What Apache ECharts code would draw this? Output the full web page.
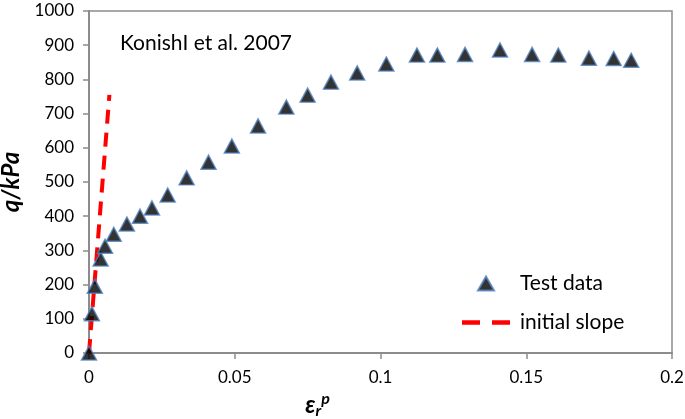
<!DOCTYPE html>
<html><head><meta charset="utf-8">
<script src="https://cdn.jsdelivr.net/npm/echarts@6/dist/echarts.min.js"></script>
<style>html,body{margin:0;padding:0;background:#fff}#c{width:685px;height:419px}</style>
</head><body><div id="c"></div>
<script>
const strain = [0, 0.001, 0.002, 0.004, 0.0055, 0.0085, 0.013, 0.0175, 0.0216, 0.027, 0.0335, 0.041, 0.049, 0.058, 0.0677, 0.075, 0.083, 0.092, 0.102, 0.1125, 0.1195, 0.129, 0.141, 0.152, 0.161, 0.1715, 0.180, 0.186];
const q = [0, 115, 195, 275, 312, 347, 377, 400, 424, 462, 512, 558, 605, 664, 719, 754, 792, 819, 845, 871, 871, 873, 886, 873, 871, 862, 861, 856];
const slopeX = [0, 0.007];
const slopeY = [0, 755];
const annotation = 'KonishI et al. 2007';
const seriesNames = ['Test data', 'initial slope'];

const font = 'Lato, "Open Sans", sans-serif';
const chart = echarts.init(document.getElementById('c'), null, {renderer: 'canvas'});
chart.setOption({
  animation: false,
  grid: {left: 89, right: 13, top: 11, bottom: 66, outerBoundsMode: 'none', containLabel: false, show: true, borderColor: '#8c8c8c', borderWidth: 1.5, backgroundColor: 'transparent'},
  xAxis: {
    type: 'value', min: 0, max: 0.2, interval: 0.05,
    axisLine: {show: true, lineStyle: {color: '#8c8c8c', width: 2}},
    axisTick: {show: true, inside: false, length: 6, lineStyle: {color: '#8c8c8c', width: 1.5}},
    splitLine: {show: false},
    axisLabel: {color: '#000', fontFamily: font, fontSize: 17, margin: 16, formatter: v => String(v)},
    name: '{e|ε}{r|r}{p|p}', nameLocation: 'middle', nameGap: 32,
    nameTextStyle: {padding: [0, 126, 0, 0], rich: {
      e: {fontFamily: font, fontSize: 24, fontWeight: 'bold', fontStyle: 'italic', color: '#000'},
      r: {fontFamily: font, fontSize: 16, fontWeight: 'bold', fontStyle: 'italic', color: '#000', verticalAlign: 'bottom', padding: [8, 0, 0, 0]},
      p: {fontFamily: font, fontSize: 16, fontWeight: 'bold', fontStyle: 'italic', color: '#000', verticalAlign: 'top', padding: [0, 0, 12, 0]}
    }}
  },
  yAxis: {
    type: 'value', min: 0, max: 1000, interval: 100,
    axisLine: {show: true, lineStyle: {color: '#8c8c8c', width: 2}},
    axisTick: {show: true, inside: false, length: 6, lineStyle: {color: '#8c8c8c', width: 1.5}},
    splitLine: {show: false},
    axisLabel: {color: '#000', fontFamily: font, fontSize: 17, margin: 15, formatter: v => String(v)},
    name: 'q/kPa', nameLocation: 'middle', nameGap: 58, nameRotate: 90,
    nameTextStyle: {fontFamily: font, fontSize: 24, fontWeight: 'bold', fontStyle: 'italic', color: '#000'}
  },
  legend: {
    orient: 'vertical', left: 457, top: 268, itemGap: 18, itemWidth: 48, itemHeight: 14,
    symbolKeepAspect: true,
    textStyle: {fontFamily: font, fontSize: 21, color: '#000', padding: [0, 0, 0, 5]},
    data: [
      {name: seriesNames[0], icon: 'path://M0,13L7.5,0L15,13Z'},
      {name: seriesNames[1], icon: 'path://M0,0H18V4.5H0Z M30,0H48V4.5H30Z', itemStyle: {color: '#ff0000'}}
    ]
  },
  graphic: [{type: 'text', left: 120, top: 33, style: {text: annotation, fontFamily: font, fontSize: 21, fill: '#000'}}],
  series: [
    {
      name: seriesNames[1], type: 'line', symbol: 'none', z: 2,
      data: slopeX.map((x, i) => [x, slopeY[i]]),
      lineStyle: {color: '#ff0000', width: 4, type: [14, 9]},
      itemStyle: {color: '#ff0000'}
    },
    {
      name: seriesNames[0], type: 'scatter', symbol: 'triangle', symbolSize: [15, 14], z: 3,
      data: strain.map((x, i) => [x, q[i]]),
      itemStyle: {color: '#000', borderColor: '#4f81bd', borderWidth: 1.5}
    }
  ]
});
</script></body></html>
